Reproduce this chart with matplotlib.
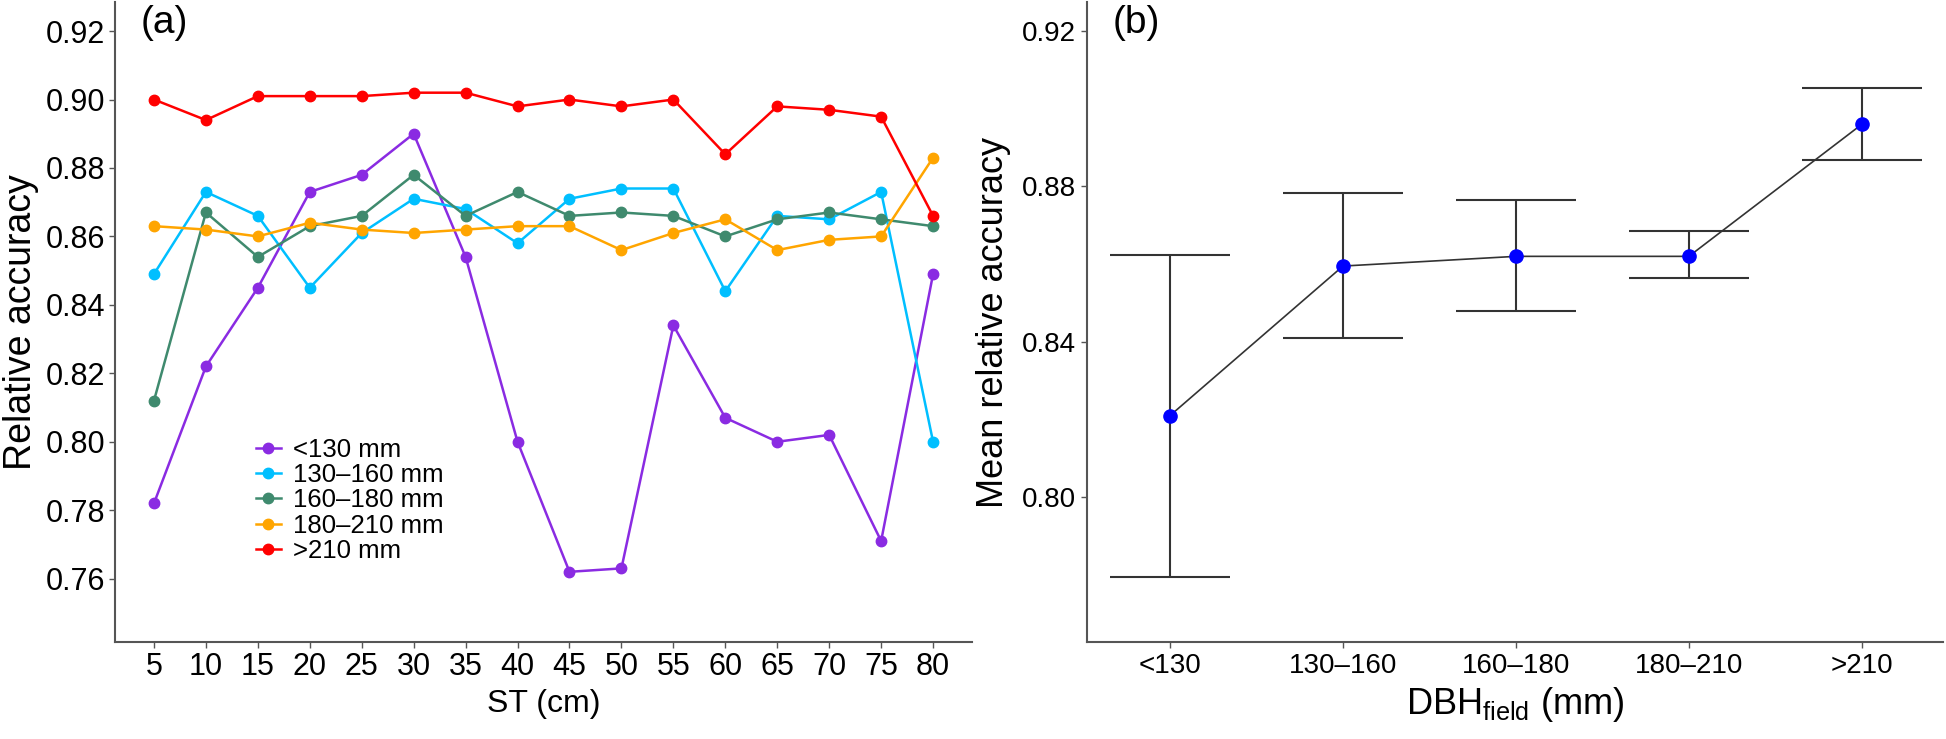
import numpy as np
import matplotlib
matplotlib.use("Agg")
import matplotlib.pyplot as plt

plt.rcParams['font.family'] = ['Liberation Sans', 'DejaVu Sans']
plt.rcParams['mathtext.fontset'] = 'custom'
plt.rcParams['mathtext.rm'] = 'Liberation Sans'

# panel (a): relative accuracy by ST for each DBH class
st = [5, 10, 15, 20, 25, 30, 35, 40, 45, 50, 55, 60, 65, 70, 75, 80]
acc_lt130 = [0.782, 0.822, 0.845, 0.873, 0.878, 0.890, 0.854, 0.800, 0.762, 0.763,
             0.834, 0.807, 0.800, 0.802, 0.771, 0.849]
acc_130_160 = [0.849, 0.873, 0.866, 0.845, 0.861, 0.871, 0.868, 0.858, 0.871, 0.874,
               0.874, 0.844, 0.866, 0.865, 0.873, 0.800]
acc_160_180 = [0.812, 0.867, 0.854, 0.863, 0.866, 0.878, 0.866, 0.873, 0.866, 0.867,
               0.866, 0.860, 0.865, 0.867, 0.865, 0.863]
acc_180_210 = [0.863, 0.862, 0.860, 0.864, 0.862, 0.861, 0.862, 0.863, 0.863, 0.856,
               0.861, 0.865, 0.856, 0.859, 0.860, 0.883]
acc_gt210 = [0.900, 0.894, 0.901, 0.901, 0.901, 0.902, 0.902, 0.898, 0.900, 0.898,
             0.900, 0.884, 0.898, 0.897, 0.895, 0.866]
labels_a = ["<130 mm", "130\u2013160 mm", "160\u2013180 mm", "180\u2013210 mm", ">210 mm"]
colors_a = ["#8a2be2", "#00bfff", "#3f8a6e", "#ffa500", "#ff0000"]

# panel (b): mean relative accuracy by DBH class
dbh_classes = ["<130", "130\u2013160", "160\u2013180", "180\u2013210", ">210"]
mean_acc = [0.821, 0.8595, 0.862, 0.862, 0.896]
err_low = [0.7795, 0.841, 0.848, 0.8565, 0.8867]
err_high = [0.8623, 0.8783, 0.8765, 0.8685, 0.9053]

fig = plt.figure(figsize=(19.46, 7.39), dpi=100)
ax1 = fig.add_axes([0.0591, 0.1313, 0.4404, 0.866])
ax2 = fig.add_axes([0.5586, 0.1313, 0.4399, 0.866])

series = [acc_lt130, acc_130_160, acc_160_180, acc_180_210, acc_gt210]
for vals, lab, col in zip(series, labels_a, colors_a):
    ax1.plot(st, vals, color=col, lw=1.8, marker='o', ms=7.5, label=lab)

ax1.set_xlim(1.25, 83.75)
ax1.set_ylim(0.7415, 0.9285)
ax1.set_xticks(st)
ax1.set_yticks([0.76, 0.78, 0.80, 0.82, 0.84, 0.86, 0.88, 0.90, 0.92])
ax1.set_yticklabels(["0.76", "0.78", "0.80", "0.82", "0.84", "0.86", "0.88", "0.90", "0.92"])
ax1.tick_params(axis='both', labelsize=22, length=4, width=1, color='#555555', pad=3)
ax1.set_xlabel("ST (cm)", fontsize=23, labelpad=5)
ax1.set_ylabel("Relative accuracy", fontsize=27, labelpad=5)
ax1.text(0.03, 0.995, "(a)", transform=ax1.transAxes, fontsize=28, va='top', ha='left')
ax1.legend(loc='upper left', bbox_to_anchor=(0.152, 0.335), frameon=False, fontsize=18.5,
           handlelength=1.0, handletextpad=0.45, labelspacing=0.05, borderaxespad=0)

x_pos = np.arange(1, len(dbh_classes) + 1)
ax2.plot(x_pos, mean_acc, color='#333333', lw=1.2, zorder=2)
ax2.errorbar(x_pos, mean_acc,
             yerr=[np.array(mean_acc) - np.array(err_low), np.array(err_high) - np.array(mean_acc)],
             fmt='none', ecolor='#333333', elinewidth=1.5, capsize=43, capthick=1.5, zorder=1)
ax2.plot(x_pos, mean_acc, 'o', color='#0000ff', ms=9.5, zorder=3)
ax2.set_xlim(0.52, 5.47)
ax2.set_ylim(0.7627, 0.9275)
ax2.set_xticks(x_pos)
ax2.set_xticklabels(dbh_classes)
ax2.set_yticks([0.80, 0.84, 0.88, 0.92])
ax2.set_yticklabels(["0.80", "0.84", "0.88", "0.92"])
ax2.tick_params(axis='both', labelsize=20, length=4, width=1, color='#555555', pad=4)
ax2.set_xlabel(r"DBH$_{\mathrm{field}}$ (mm)", fontsize=26, labelpad=4)
ax2.set_ylabel("Mean relative accuracy", fontsize=26, labelpad=8)
ax2.text(0.03, 0.995, "(b)", transform=ax2.transAxes, fontsize=28, va='top', ha='left')

for ax in (ax1, ax2):
    ax.spines['top'].set_visible(False)
    ax.spines['right'].set_visible(False)
    for s in ('left', 'bottom'):
        ax.spines[s].set_color('#555555')
        ax.spines[s].set_linewidth(1.5)

fig.savefig("out.png", dpi=100)
